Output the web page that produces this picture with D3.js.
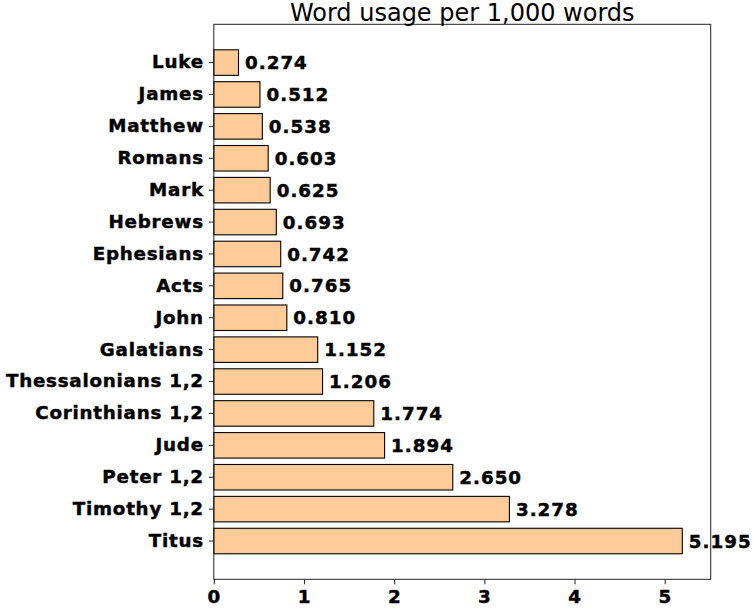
<!DOCTYPE html>
<html>
<head>
<meta charset="utf-8">
<script src="https://cdn.jsdelivr.net/npm/d3@7"></script>
<style>
  html, body { margin: 0; padding: 0; background: #fff; }
  svg { display: block; }
</style>
</head>
<body>
<div id="chart"></div>
<script>
const categories = ["Luke", "James", "Matthew", "Romans", "Mark", "Hebrews", "Ephesians", "Acts", "John", "Galatians", "Thessalonians 1,2", "Corinthians 1,2", "Jude", "Peter 1,2", "Timothy 1,2", "Titus"];
const values = [0.274, 0.512, 0.538, 0.603, 0.625, 0.693, 0.742, 0.765, 0.810, 1.152, 1.206, 1.774, 1.894, 2.650, 3.278, 5.195];
const xTicks = [0, 1, 2, 3, 4, 5];
const title = "Word usage per 1,000 words";

const W = 753, H = 609;
const m = { left: 213.8, right: 753 - 710.7, top: 24.3, bottom: 609 - 579.3 };
const iw = W - m.left - m.right, ih = H - m.top - m.bottom;

const svg = d3.select("#chart").append("svg").attr("width", W).attr("height", H);
const g = svg.append("g").attr("transform", `translate(${m.left},${m.top})`);

const x = d3.scaleLinear().domain([0, 5.51]).range([0, iw]);
const y = d3.scaleBand().domain(categories).range([0, ih]).paddingInner(0.2).paddingOuter(0.8);

const data = categories.map((c, i) => ({ c, v: values[i] }));

function boldText(sel, ls) {
  sel.attr("font-family", "DejaVu Sans")
    .attr("font-weight", "bold")
    .attr("font-size", "18.3px")
    .attr("letter-spacing", ls + "px")
    .attr("fill", "#000")
    .attr("stroke", "#000")
    .attr("stroke-width", 0.45);
}

g.selectAll("rect.bar").data(data).enter().append("rect")
  .attr("class", "bar")
  .attr("x", x(0))
  .attr("y", d => y(d.c))
  .attr("width", d => x(d.v) - x(0))
  .attr("height", y.bandwidth())
  .attr("fill", "#ffcc99")
  .attr("stroke", "#000")
  .attr("stroke-width", 1.1);

g.selectAll("text.val").data(data).enter().append("text")
  .attr("class", "val")
  .attr("x", d => x(d.v) + 6.5)
  .attr("y", d => y(d.c) + y.bandwidth() / 2)
  .attr("dy", "0.36em")
  .call(boldText, 1.0)
  .text(d => d.v.toFixed(3));

// frame
g.append("rect").attr("x", 0).attr("y", 0).attr("width", iw).attr("height", ih)
  .attr("fill", "none").attr("stroke", "#222").attr("stroke-width", 1);

const xAxis = g.append("g").attr("transform", `translate(0,${ih})`)
  .call(d3.axisBottom(x).tickValues(xTicks).tickFormat(d3.format("d")).tickSize(5).tickPadding(6));
const yAxis = g.append("g")
  .call(d3.axisLeft(y).tickSize(5).tickPadding(5));

[xAxis, yAxis].forEach(a => {
  a.select(".domain").remove();
  a.selectAll("line").attr("stroke", "#222");
  a.selectAll("text").call(boldText, 0.75);
});

svg.append("text")
  .attr("x", m.left + iw / 2)
  .attr("y", 20.5)
  .attr("text-anchor", "middle")
  .attr("font-family", "DejaVu Sans")
  .attr("font-size", "24px")
  .attr("fill", "#000")
  .text(title);
</script>
</body>
</html>
